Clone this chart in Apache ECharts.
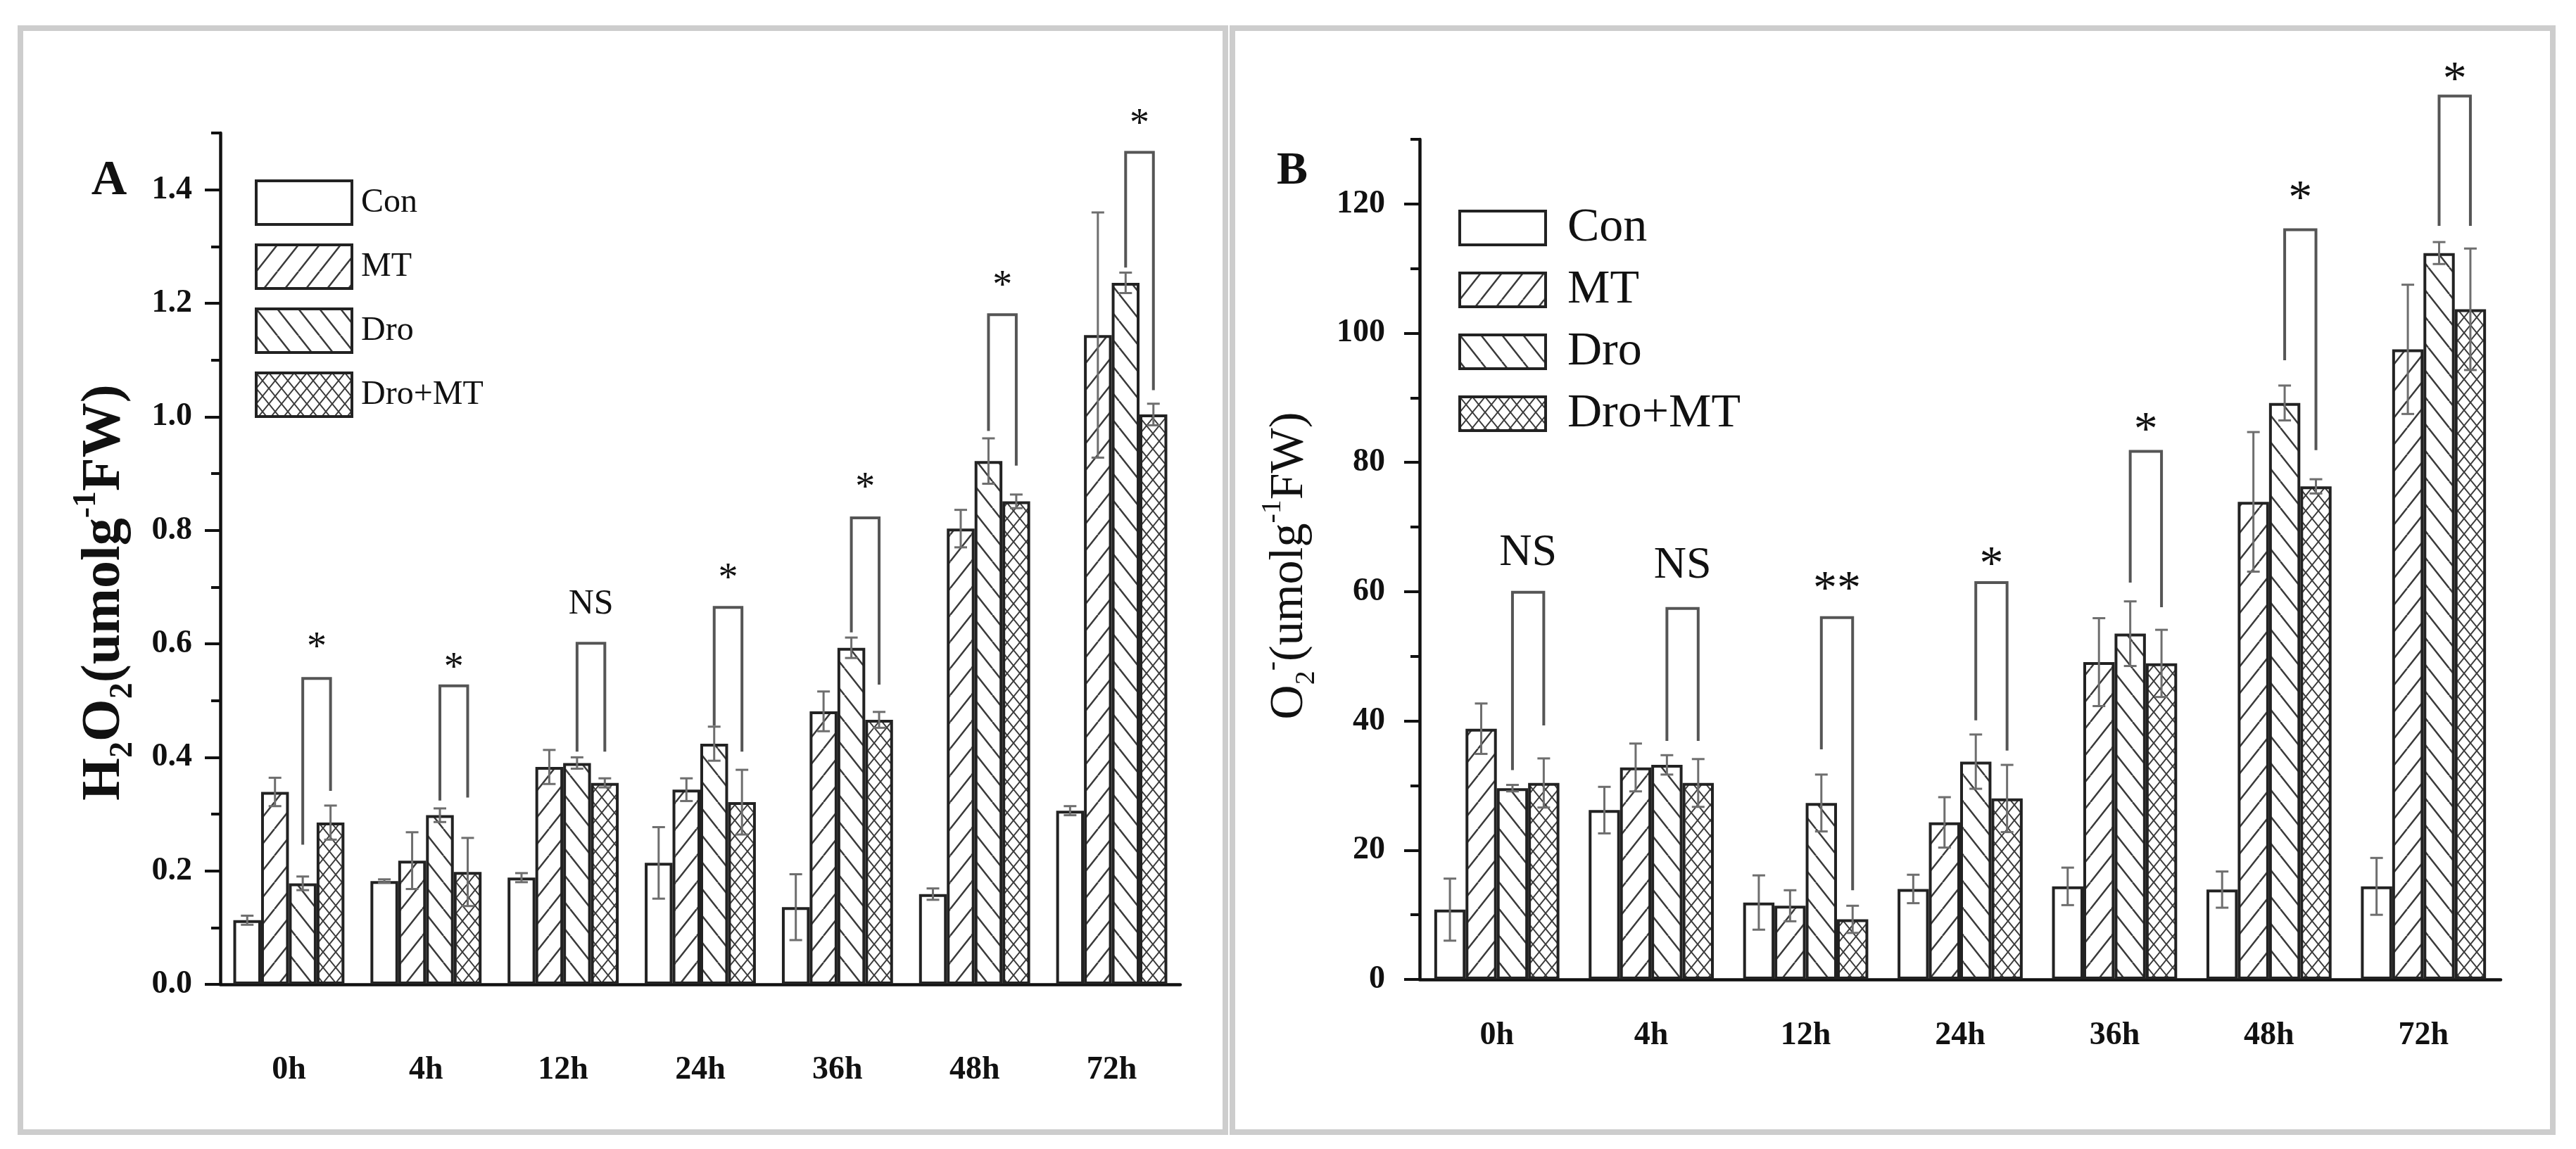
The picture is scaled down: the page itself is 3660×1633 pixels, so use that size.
<!DOCTYPE html>
<html>
<head>
<meta charset="utf-8">
<title>H2O2 / O2- content</title>
<script src="https://cdn.jsdelivr.net/npm/echarts@6/dist/echarts.min.js"></script>
<style>
html, body { margin: 0; padding: 0; background: #fff; }
#chart { width: 3660px; height: 1633px; }
</style>
</head>
<body>
<div id="chart"></div>
<script>
// categories and legend
var timeList = ['0h', '4h', '12h', '24h', '36h', '48h', '72h'];
var groupList = ['Con', 'MT', 'Dro', 'Dro+MT'];

// panel A: H2O2
var conA = [0.113, 0.182, 0.188, 0.214, 0.136, 0.159, 0.306];
var conErrA = [0.008, 0.003, 0.008, 0.063, 0.058, 0.010, 0.008];
var mtA = [0.339, 0.218, 0.383, 0.343, 0.481, 0.803, 1.144];
var mtErrA = [0.025, 0.050, 0.030, 0.020, 0.035, 0.033, 0.216];
var droA = [0.178, 0.298, 0.390, 0.424, 0.593, 0.922, 1.236];
var droErrA = [0.012, 0.012, 0.010, 0.030, 0.018, 0.040, 0.018];
var dmA = [0.285, 0.198, 0.355, 0.321, 0.466, 0.851, 1.004];
var dmErrA = [0.030, 0.060, 0.008, 0.057, 0.014, 0.012, 0.019];
var brTopA = [0.539, 0.526, 0.601, 0.664, 0.822, 1.180, 1.466];
var brLeftA = [0.246, 0.324, 0.410, 0.456, 0.620, 0.975, 1.263];
var brRightA = [0.341, 0.329, 0.410, 0.410, 0.528, 0.914, 1.047];
var sigYA = [0.606, 0.570, 0.670, 0.728, 0.888, 1.244, 1.528];
var sigA = ['*', '*', 'NS', '*', '*', '*', '*'];
var majorTickA = [0, 0.2, 0.4, 0.6, 0.8, 1.0, 1.2, 1.4];
var minorTickA = [0.1, 0.3, 0.5, 0.7, 0.9, 1.1, 1.3, 1.5];

// panel B: O2-
var conB = [10.8, 26.2, 11.9, 14.0, 14.4, 13.9, 14.4];
var conErrB = [4.8, 3.6, 4.2, 2.2, 2.9, 2.8, 4.4];
var mtB = [38.8, 32.8, 11.4, 24.3, 49.1, 73.9, 97.5];
var mtErrB = [3.9, 3.7, 2.4, 3.9, 6.8, 10.8, 10.0];
var droB = [29.6, 33.2, 27.3, 33.7, 53.5, 89.2, 112.4];
var droErrB = [0.5, 1.5, 4.4, 4.2, 5.0, 2.7, 1.7];
var dmB = [30.4, 30.4, 9.3, 28.0, 48.9, 76.3, 103.7];
var dmErrB = [3.8, 3.7, 2.1, 5.2, 5.2, 1.1, 9.4];
var brTopB = [59.9, 57.4, 56.0, 61.4, 81.7, 116.0, 136.7];
var brLeftB = [32.4, 36.9, 35.6, 40.1, 61.4, 95.8, 116.6];
var brRightB = [39.3, 36.9, 13.8, 35.4, 57.6, 81.9, 116.6];
var sigYB = [66.0, 64.0, 61.8, 65.6, 86.4, 122.3, 140.7];
var sigB = ['NS', 'NS', '**', '*', '*', '*', '*'];
var majorTickB = [0, 20, 40, 60, 80, 100, 120];
var minorTickB = [10, 30, 50, 70, 90, 110, 130];

var FONT = '"Liberation Serif", "Times New Roman", serif';
var GAP = 0.19;

// fill patterns for the bars
function makePattern(w, h, kind) {
	var c = document.createElement('canvas');
	c.width = w;
	c.height = h;
	var g = c.getContext('2d');
	g.fillStyle = '#ffffff';
	g.fillRect(0, 0, w, h);
	g.strokeStyle = '#3a3a3a';
	g.lineWidth = kind == 'cross' ? 2 : 2.5;
	g.beginPath();
	for (var k = -1; k <= 1; k++) {
		if (kind == 'fwd' || kind == 'cross') {
			g.moveTo(k * w, h);
			g.lineTo(k * w + w, 0);
		}
		if (kind == 'back' || kind == 'cross') {
			g.moveTo(k * w, 0);
			g.lineTo(k * w + w, h);
		}
	}
	g.stroke();
	return { image: c, repeat: 'repeat' };
}

var fills = [
	'#ffffff',
	makePattern(30, 38, 'fwd'),
	makePattern(30, 38, 'back'),
	makePattern(18, 22, 'cross')
];

function barSeries(name, k, data, xIdx, yIdx) {
	return {
		name: name,
		type: 'bar',
		xAxisIndex: xIdx,
		yAxisIndex: yIdx,
		data: data,
		barGap: '0%',
		barCategoryGap: (GAP * 100) + '%',
		itemStyle: {
			color: fills[k],
			borderColor: '#222',
			borderWidth: 4
		},
		emphasis: { disabled: true },
		z: 2
	};
}

function errRows(lists, errs) {
	var rows = [];
	for (var k = 0; k < lists.length; k++) {
		for (var i = 0; i < lists[k].length; i++) {
			rows.push([i, k, lists[k][i], errs[k][i]]);
		}
	}
	return rows;
}

function renderErr(params, api) {
	var i = api.value(0), k = api.value(1), v = api.value(2), e = api.value(3);
	var bw = api.size([1, 0])[0] * (1 - GAP) / 4;
	var x = api.coord([i, v])[0] + (k - 1.5) * bw;
	var y1 = api.coord([i, v + e])[1];
	var y2 = api.coord([i, v - e])[1];
	var c = 9;
	function seg(a, b, cc, d) {
		return { type: 'line', shape: { x1: a, y1: b, x2: cc, y2: d }, style: { stroke: '#6e6e6e', lineWidth: 3 } };
	}
	return { type: 'group', children: [seg(x, y1, x, y2), seg(x - c, y1, x + c, y1), seg(x - c, y2, x + c, y2)] };
}

function bracketRows(top, left, right, ly) {
	var rows = [];
	for (var i = 0; i < top.length; i++) {
		rows.push([i, top[i], left[i], right[i], ly[i]]);
	}
	return rows;
}

function makeBracketRender(labels, nsSize, starSize) {
	return function(params, api) {
		var i = api.value(0);
		var bw = api.size([1, 0])[0] * (1 - GAP) / 4;
		var cx = api.coord([i, 0])[0];
		var x1 = cx + 0.5 * bw, x2 = cx + 1.5 * bw;
		var yt = api.coord([i, api.value(1)])[1];
		var yl = api.coord([i, api.value(2)])[1];
		var yr = api.coord([i, api.value(3)])[1];
		var ys = api.coord([i, api.value(4)])[1];
		var txt = labels[params.dataIndex];
		var isStar = txt.indexOf('*') >= 0;
		var fs = isStar ? starSize : nsSize;
		return {
			type: 'group',
			children: [{
				type: 'polyline',
				shape: { points: [[x1, yl], [x1, yt], [x2, yt], [x2, yr]] },
				style: { stroke: '#555', lineWidth: 4, fill: 'none' }
			}, {
				type: 'text',
				x: (x1 + x2) / 2,
				y: ys + (isStar ? fs * 0.22 : 0),
				style: {
					text: txt,
					fontFamily: FONT,
					fontSize: fs,
					fill: '#111',
					align: 'center',
					verticalAlign: 'middle'
				}
			}]
		};
	};
}

function xAxes(gridIdx, labelMargin) {
	return [{
		type: 'category',
		gridIndex: gridIdx,
		position: 'bottom',
		data: timeList,
		axisLine: { lineStyle: { color: '#111', width: 4.5 } },
		axisTick: { alignWithLabel: true, length: 24, lineStyle: { color: '#111', width: 4 } },
		axisLabel: { margin: labelMargin, fontFamily: FONT, fontWeight: 'bold', fontSize: 46, color: '#111' },
		splitLine: { show: false }
	}, {
		type: 'category',
		gridIndex: gridIdx,
		position: 'bottom',
		data: timeList,
		axisLine: { show: false },
		axisTick: { length: 10, lineStyle: { color: '#111', width: 4 } },
		axisLabel: { show: false },
		splitLine: { show: false }
	}];
}

function yAxes(gridIdx, max, interval, majors, minors, digits, margin, name, nameStyle, nameGap) {
	return [{
		type: 'value',
		gridIndex: gridIdx,
		position: 'left',
		min: 0,
		max: max,
		interval: interval,
		name: name,
		nameLocation: 'middle',
		nameRotate: 90,
		nameGap: nameGap,
		nameTextStyle: nameStyle,
		axisLine: { show: true, lineStyle: { color: '#111', width: 4.5 } },
		axisTick: { show: true, length: 22, customValues: majors, lineStyle: { color: '#111', width: 4 } },
		axisLabel: {
			margin: margin,
			customValues: majors,
			fontFamily: FONT,
			fontWeight: 'bold',
			fontSize: 46,
			color: '#111',
			formatter: function(v) { return v.toFixed(digits); }
		},
		splitLine: { show: false }
	}, {
		type: 'value',
		gridIndex: gridIdx,
		position: 'left',
		min: 0,
		max: max,
		interval: interval,
		axisLine: { show: false },
		axisTick: { show: true, length: 13, customValues: minors, lineStyle: { color: '#111', width: 4 } },
		axisLabel: { show: false },
		splitLine: { show: false }
	}];
}

var nameStyleA = {
	fontFamily: FONT,
	fontWeight: 'bold',
	fontSize: 78,
	color: '#111',
	padding: [0, 96, 0, 0],
	rich: {
		m: { fontFamily: FONT, fontWeight: 'bold', fontSize: 78, lineHeight: 98, color: '#111' },
		s: { fontFamily: FONT, fontWeight: 'bold', fontSize: 46, lineHeight: 98, verticalAlign: 'bottom', color: '#111' },
		p: { fontFamily: FONT, fontWeight: 'bold', fontSize: 46, lineHeight: 98, verticalAlign: 'top', color: '#111' }
	}
};
var nameStyleB = {
	fontFamily: FONT,
	fontSize: 68,
	color: '#111',
	padding: [0, 18, 0, 0],
	rich: {
		m: { fontFamily: FONT, fontSize: 68, lineHeight: 88, color: '#111' },
		s: { fontFamily: FONT, fontSize: 40, lineHeight: 88, verticalAlign: 'bottom', color: '#111' },
		p: { fontFamily: FONT, fontSize: 40, lineHeight: 88, verticalAlign: 'top', color: '#111' }
	}
};

var option = {
	animation: false,
	backgroundColor: '#ffffff',
	graphic: [{
		type: 'rect',
		shape: { x: 29, y: 40, width: 1712, height: 1569 },
		style: { fill: 'none', stroke: '#cdcdcd', lineWidth: 8 }
	}, {
		type: 'rect',
		shape: { x: 1751, y: 40, width: 1876, height: 1569 },
		style: { fill: 'none', stroke: '#cdcdcd', lineWidth: 8 }
	}, {
		type: 'text',
		x: 155,
		y: 258,
		style: { text: 'A', fontFamily: FONT, fontWeight: 'bold', fontSize: 70, fill: '#111', align: 'center', verticalAlign: 'middle' }
	}, {
		type: 'text',
		x: 1836,
		y: 244,
		style: { text: 'B', fontFamily: FONT, fontWeight: 'bold', fontSize: 66, fill: '#111', align: 'center', verticalAlign: 'middle' }
	}],
	legend: [{
		data: groupList,
		orient: 'vertical',
		left: 362,
		top: 255,
		padding: 0,
		itemWidth: 136,
		itemHeight: 62,
		itemGap: 25,
		selectedMode: false,
		icon: 'rect',
		itemStyle: { borderColor: '#222', borderWidth: 4 },
		textStyle: { fontFamily: FONT, fontSize: 48, color: '#111', padding: [0, 0, 0, 8] }
	}, {
		data: groupList,
		orient: 'vertical',
		left: 2072,
		top: 290,
		padding: 0,
		itemWidth: 122,
		itemHeight: 48,
		itemGap: 20,
		selectedMode: false,
		icon: 'rect',
		itemStyle: { borderColor: '#222', borderWidth: 4 },
		textStyle: { fontFamily: FONT, fontSize: 68, color: '#111', padding: [0, 0, 0, 26] }
	}],
	grid: [
		{ left: 313, right: 1983, top: 189, bottom: 234 },
		{ left: 2017, right: 107, top: 198, bottom: 241 }
	],
	xAxis: xAxes(0, 99).concat(xAxes(1, 57)),
	yAxis: yAxes(0, 1.5, 0.1, majorTickA, minorTickA, 1, 40,
			'{m|H}{s|2}{m|O}{s|2}{m|(umolg}{p|-1}{m|FW)}', nameStyleA, 115)
		.concat(yAxes(1, 130, 10, majorTickB, minorTickB, 0, 49,
			'{m|O}{s|2}{p|-}{m|(umolg}{p|-1}{m|FW)}', nameStyleB, 141)),
	series: [
		barSeries('Con', 0, conA, 0, 0),
		barSeries('MT', 1, mtA, 0, 0),
		barSeries('Dro', 2, droA, 0, 0),
		barSeries('Dro+MT', 3, dmA, 0, 0),
		{
			type: 'custom',
			xAxisIndex: 0,
			yAxisIndex: 0,
			clip: false,
			z: 5,
			encode: { x: 0, y: 2 },
			renderItem: renderErr,
			data: errRows([conA, mtA, droA, dmA], [conErrA, mtErrA, droErrA, dmErrA])
		}, {
			type: 'custom',
			xAxisIndex: 0,
			yAxisIndex: 0,
			clip: false,
			z: 5,
			encode: { x: 0, y: 1 },
			renderItem: makeBracketRender(sigA, 50, 56),
			data: bracketRows(brTopA, brLeftA, brRightA, sigYA)
		},
		barSeries('Con', 0, conB, 2, 2),
		barSeries('MT', 1, mtB, 2, 2),
		barSeries('Dro', 2, droB, 2, 2),
		barSeries('Dro+MT', 3, dmB, 2, 2),
		{
			type: 'custom',
			xAxisIndex: 2,
			yAxisIndex: 2,
			clip: false,
			z: 5,
			encode: { x: 0, y: 2 },
			renderItem: renderErr,
			data: errRows([conB, mtB, droB, dmB], [conErrB, mtErrB, droErrB, dmErrB])
		}, {
			type: 'custom',
			xAxisIndex: 2,
			yAxisIndex: 2,
			clip: false,
			z: 5,
			encode: { x: 0, y: 1 },
			renderItem: makeBracketRender(sigB, 64, 68),
			data: bracketRows(brTopB, brLeftB, brRightB, sigYB)
		}
	]
};

var chart = echarts.init(document.getElementById('chart'));
chart.setOption(option);
</script>
</body>
</html>
